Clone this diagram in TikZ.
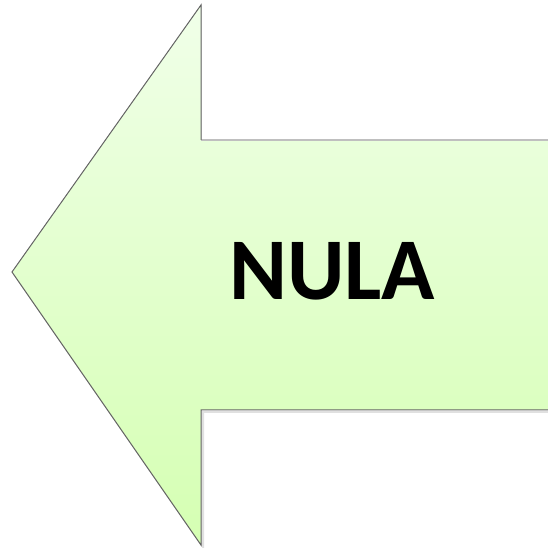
\documentclass[tikz,border=0pt]{standalone}
\usepackage{fontspec}
\setmainfont{Carlito}
\tikzset{
	arrowfill/.style={top color=green!6!white!97!yellow,bottom color=green!55!yellow!30!white},
	arrowline/.style={draw=black!60,line width=1pt,line join=miter},
	shaftline/.style={draw=black!25,line width=1.2pt},
	labelstyle/.style={font=\bfseries\fontsize{88}{88}\selectfont,text=black,anchor=base,inner sep=0pt}
}
\begin{document}
\begin{tikzpicture}[x=1pt,y=1pt]
	\useasboundingbox (0,0) rectangle (547,548);
	\coordinate (tip) at (12,276);
	\coordinate (headtop) at (201,543);
	\coordinate (shafttop) at (201,408);
	\coordinate (endtop) at (548,408);
	\coordinate (endbot) at (548,138);
	\coordinate (shaftbot) at (201,138);
	\coordinate (headbot) at (201,3);
	% faint shadow
	\draw[black!12,line width=2pt] ([shift={(2,-2)}]tip)--([shift={(2,-2)}]headbot)--([shift={(2,-2)}]shaftbot)--([shift={(2,-2)}]endbot);
	\fill[arrowfill] (tip)--(headtop)--(shafttop)--(endtop)--(endbot)--(shaftbot)--(headbot)--cycle;
	\draw[shaftline] (endtop)--(shafttop);
	\draw[arrowline] (shafttop)--(headtop)--(tip)--(headbot)--(shaftbot)--(endbot);
	\node[labelstyle] (nula) at (332,248) {NULA};
\end{tikzpicture}
\end{document}
